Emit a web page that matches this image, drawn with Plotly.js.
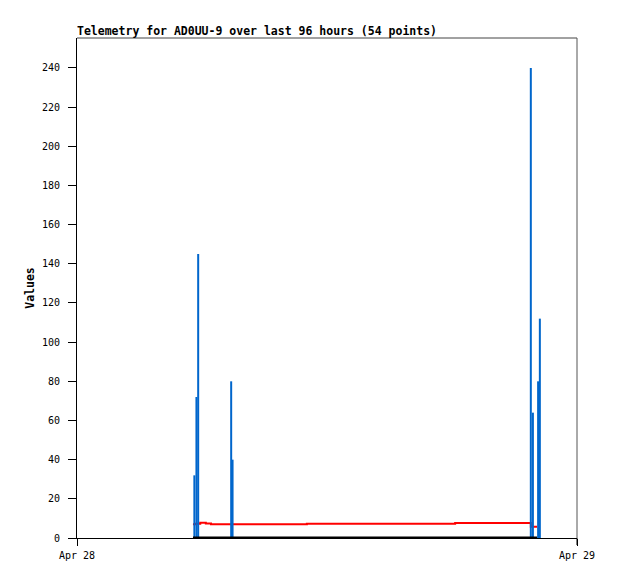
<!DOCTYPE html>
<html>
<head>
<meta charset="utf-8">
<script src="https://cdn.plot.ly/plotly-3.0.1.min.js"></script>
<style>html,body{margin:0;padding:0;background:#fff;}#chart{width:618px;height:579px;}</style>
</head>
<body>
<div id="chart"></div>
<script>
// Telemetry impulse values (blue)
var barTimes = ['2024-04-28 05:38', '2024-04-28 05:44', '2024-04-28 05:49', '2024-04-28 07:24', '2024-04-28 07:28',
                '2024-04-28 21:47', '2024-04-28 21:53', '2024-04-28 22:08', '2024-04-28 22:13'];
var barValues = [32, 72, 145, 80, 40, 240, 64, 80, 112];

// Red series
var redTimes = ['2024-04-28 05:34', '2024-04-28 05:41', '2024-04-28 05:55', '2024-04-28 06:11', '2024-04-28 06:26',
                '2024-04-28 11:02', '2024-04-28 18:09', '2024-04-28 21:47', '2024-04-28 22:05'];
var redValues = [7.0, 7.3, 7.8, 7.4, 7.0, 7.3, 7.7, 5.8, 5.8];

// Black series (zero)
var zeroTimes = ['2024-04-28 05:34', '2024-04-28 22:05'];
var zeroValues = [0, 0];

var xTickVals = ['2024-04-28 00:00', '2024-04-29 00:00'];
var xTickText = ['Apr 28', 'Apr 29'];
var yTickVals = [0, 20, 40, 60, 80, 100, 120, 140, 160, 180, 200, 220, 240];

var xRange = ['2024-04-28 00:00', '2024-04-29 00:00'];
var yRange = [0, 255.3];
var mono = 'DejaVu Sans Mono, Liberation Mono, monospace';

var traces = [
  {x: redTimes, y: redValues, type: 'scatter', mode: 'lines', line: {color: '#ff0000', width: 2, shape: 'hv'},
   xaxis: 'x', yaxis: 'y', hoverinfo: 'skip'},
  {x: barTimes, y: barValues, type: 'bar', marker: {color: '#0066cc', line: {width: 0}}, width: 345600,
   xaxis: 'x2', yaxis: 'y2', hoverinfo: 'skip'},
  {x: zeroTimes, y: zeroValues, type: 'scatter', mode: 'lines', line: {color: '#000000', width: 3},
   xaxis: 'x2', yaxis: 'y2', hoverinfo: 'skip'}
];

var layout = {
  width: 618, height: 579,
  margin: {l: 77, r: 41, t: 38, b: 41, pad: 0},
  paper_bgcolor: '#ffffff', plot_bgcolor: '#ffffff',
  showlegend: false,
  barmode: 'overlay',
  font: {family: mono, size: 10, color: '#000'},
  title: {text: 'Telemetry for AD0UU-9 over last 96 hours (54 points)', font: {family: mono, size: 11.5, color: '#000', weight: 'bold'},
          xref: 'paper', x: 0, xanchor: 'left', yref: 'container', y: 1 - 31/579, yanchor: 'middle'},
  xaxis: {type: 'date', range: xRange, tickmode: 'array', tickvals: xTickVals, ticktext: xTickText,
          ticks: 'outside', ticklen: 7, tickcolor: '#000', tickwidth: 1, showgrid: false, zeroline: false,
          showline: true, linecolor: '#000', linewidth: 1, tickfont: {family: mono, size: 10, color: '#000'},
          ticklabelstandoff: 1, fixedrange: true},
  yaxis: {range: yRange, tickmode: 'array', tickvals: yTickVals, ticks: 'outside', ticklen: 8, tickcolor: '#000',
          showgrid: false, zeroline: false, showline: true, linecolor: '#000', linewidth: 1,
          tickfont: {family: mono, size: 10, color: '#000'}, ticklabelstandoff: 6,
          title: {text: 'Values', font: {family: mono, size: 11.5, color: '#000', weight: 'bold'}, standoff: 4}, fixedrange: true},
  xaxis2: {type: 'date', range: xRange, overlaying: 'x', visible: false, fixedrange: true},
  yaxis2: {range: yRange, overlaying: 'y', visible: false, fixedrange: true},
  shapes: [
    {type: 'line', xref: 'paper', yref: 'paper', x0: 0, x1: 1, y0: 1, y1: 1, line: {color: '#444', width: 1}},
    {type: 'line', xref: 'paper', yref: 'paper', x0: 1, x1: 1, y0: 0, y1: 1, line: {color: '#555', width: 1}},
    {type: 'line', xref: 'paper', yref: 'paper', x0: 1, x1: 1, y0: 0, y1: -7/500, line: {color: '#000', width: 1}}
  ]
};

Plotly.newPlot('chart', traces, layout, {staticPlot: true, displayModeBar: false});
</script>
</body>
</html>
